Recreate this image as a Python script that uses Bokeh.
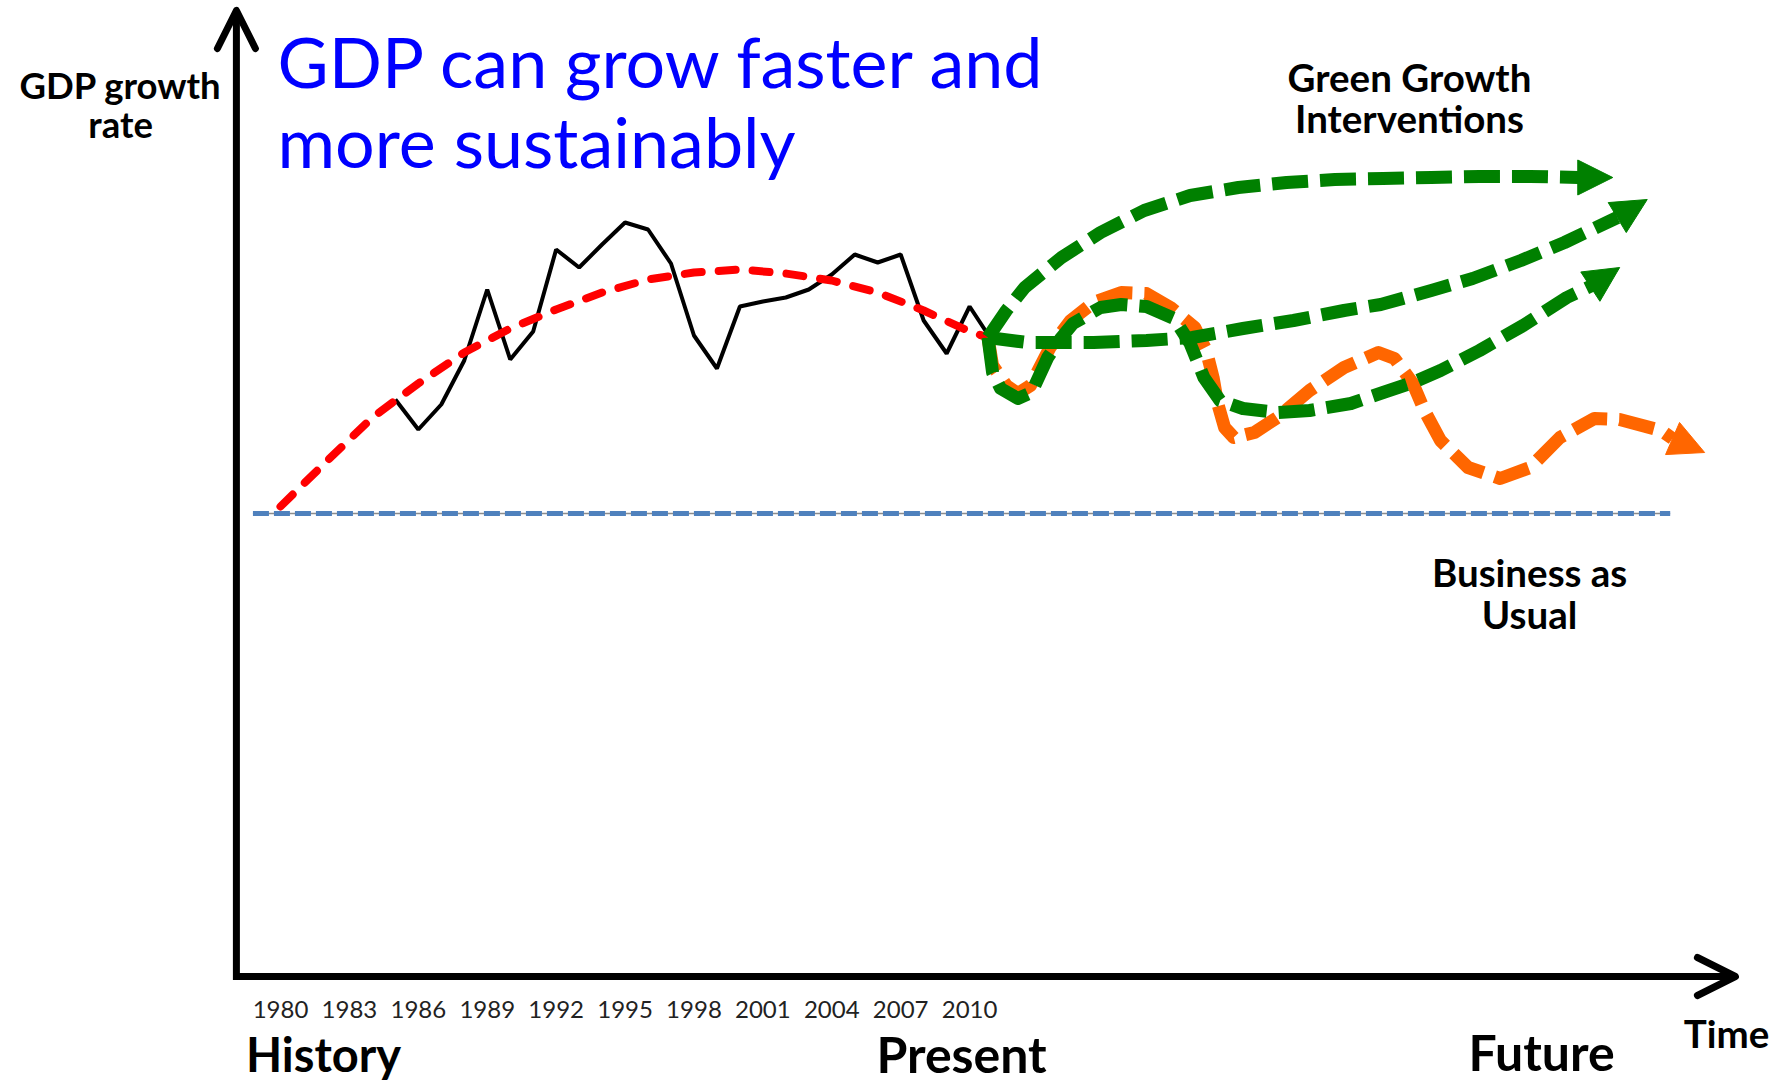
from bokeh.plotting import figure
from bokeh.models import Range1d, Arrow, NormalHead, OpenHead, Label
from bokeh.core.properties import value
from bokeh.embed import file_html
from bokeh.resources import INLINE

# ---------------- data ----------------
# historical GDP growth (schematic index units)
gdp_years = list(range(1985, 2012))
gdp_growth = [57.7, 54.7, 57.2, 61.6, 68.7, 61.7, 64.5, 72.7, 70.9, 73.2, 75.4, 74.7, 71.3,
              64.1, 60.8, 67.0, 67.5, 67.9, 68.7, 70.2, 72.2, 71.4, 72.2, 65.6, 62.3, 67.0, 63.5]

# smoothed historical trend
trend_years = [1980, 1982, 1984, 1986, 1988, 1990, 1992, 1994, 1996, 1998, 2000, 2002, 2004,
               2006, 2008, 2010, 2010.8]
trend_values = [47.0, 51.5, 55.9, 59.3, 62.4, 64.8, 66.7, 68.4, 69.7, 70.4, 70.7, 70.3, 69.6,
                68.4, 66.6, 64.5, 63.9]

# business as usual
bau_years = [1978.8, 2040.5]
bau_values = [46.3, 46.3]

# green growth scenarios
green1_years = [2010.8, 2011.6, 2012.4, 2014.0, 2015.7, 2017.6, 2019.6, 2021.7, 2023.8, 2025.9,
                2028.0, 2030.1, 2032.2, 2034.4, 2036.5]
green1_values = [63.9, 66.6, 68.9, 71.9, 74.4, 76.6, 78.1, 78.9, 79.4, 79.7, 79.8, 79.9, 80.0,
                 80.0, 79.9]
green1_tip = [2038.0, 79.9]

green2_years = [2010.8, 2012.5, 2015.4, 2017.7, 2019.7, 2021.9, 2024.1, 2026.3, 2027.9, 2030.1,
                2031.9, 2034.0, 2035.9, 2038.2]
green2_values = [63.9, 63.4, 63.4, 63.6, 63.9, 64.8, 65.6, 66.6, 67.2, 68.6, 69.8, 71.6, 73.4, 75.9]
green2_tip = [2039.5, 77.7]

green3_years = [2010.8, 2011.0, 2011.35, 2012.1, 2012.7, 2013.4, 2014.0, 2014.5, 2015.7, 2016.6,
                2017.7, 2018.9, 2019.6, 2020.2, 2020.9, 2021.9, 2023.4, 2024.8, 2026.6, 2028.0,
                2029.3, 2030.5, 2032.2, 2034.1, 2036.0, 2037.1]
green3_values = [63.9, 60.4, 58.8, 57.8, 58.4, 61.9, 63.9, 65.3, 66.9, 67.2, 67.0, 65.8, 63.3,
                 59.9, 57.6, 56.8, 56.4, 56.6, 57.3, 58.4, 59.4, 60.6, 62.6, 65.1, 67.9, 69.1]
green3_tip = [2038.3, 70.9]

orange_years = [2010.8, 2011.0, 2011.6, 2012.1, 2012.65, 2013.5, 2014.4, 2015.4, 2016.6, 2017.7,
                2018.75, 2019.8, 2020.3, 2020.6, 2020.8, 2021.1, 2021.5, 2022.4, 2023.4, 2024.8,
                2026.3, 2027.8, 2028.5, 2029.3, 2029.8, 2030.5, 2031.7, 2033.1, 2034.4, 2035.7,
                2037.2, 2038.3, 2040.1, 2040.6]
orange_values = [63.9, 61.1, 59.1, 58.3, 59.1, 62.9, 65.6, 67.4, 68.4, 68.3, 66.9, 64.9, 62.6,
                 59.9, 57.3, 54.9, 53.9, 54.4, 55.9, 58.6, 60.9, 62.4, 61.8, 59.3, 56.6, 53.6,
                 50.9, 49.8, 50.9, 53.9, 55.8, 55.7, 54.6, 53.8]
orange_tip = [2042.0, 52.4]

tick_years = [1980, 1983, 1986, 1989, 1992, 1995, 1998, 2001, 2004, 2007, 2010]
tick_labels = [str(y) for y in tick_years]

title_lines = ["GDP can grow faster and", "more sustainably"]
axis_texts = ["GDP growth", "rate"]
note_texts = ["Green Growth", "Interventions", "Business as", "Usual", "Time"]
future_text = "Future"

# ---------------- layout ----------------
GREEN = "#008000"
ORANGE = "#FF6600"
BLUE = "#4F81BD"

p = figure(width=1785, height=1084, x_range=Range1d(1967.810, 2045.520),
           y_range=Range1d(-10.8, 97.6), output_backend="svg", toolbar_location=None,
           min_border=0)
p.axis.visible = False
p.grid.visible = False
p.outline_line_color = None
p.background_fill_color = "white"

# axes drawn as arrows
y_axis_x = 1978.08
x_axis_y = 0.0
p.add_layout(Arrow(x_start=y_axis_x, y_start=-0.35, x_end=y_axis_x, y_end=96.6,
                   line_width=7, line_color="black",
                   end=OpenHead(size=38, line_width=7, line_color="black",
                                line_join="round", line_cap="round")))
p.add_layout(Arrow(x_start=1977.95, y_start=x_axis_y, x_end=2043.34, y_end=x_axis_y,
                   line_width=7, line_color="black",
                   end=OpenHead(size=38, line_width=7, line_color="black",
                                line_join="round", line_cap="round")))

# business as usual
p.line(bau_years, bau_values, line_color="#8c8c8c", line_width=1.5)
p.line(bau_years, bau_values, line_color=BLUE, line_width=5, line_dash="16 5")

# history
p.line(gdp_years, gdp_growth, line_color="black", line_width=4)
p.line(trend_years, trend_values, line_color="#FF0000", line_width=8, line_dash="17 17",
       line_cap="round")

# scenarios
def scenario(xs, ys, tip, color):
    p.line(xs, ys, line_color=color, line_width=13, line_dash="36 12", line_join="round")
    p.add_layout(Arrow(x_start=xs[-1], y_start=ys[-1], x_end=tip[0], y_end=tip[1],
                       line_alpha=0, line_width=0,
                       end=NormalHead(size=35, fill_color=color, line_color=color,
                                      line_width=1)))

scenario(orange_years, orange_values, orange_tip, ORANGE)
scenario(green3_years, green3_values, green3_tip, GREEN)
scenario(green2_years, green2_values, green2_tip, GREEN)
scenario(green1_years, green1_values, green1_tip, GREEN)

# title
p.text(x=[1979.87, 1979.87], y=[91.6, 83.55], text=title_lines,
       text_font=value("Lato"), text_font_size="70px", text_color="#0000FF",
       text_align="left", text_baseline="alphabetic")

# labels
p.text(x=[1973.04, 1973.04], y=[89.2, 85.3], text=axis_texts, text_font=value("Lato"),
       text_font_size="36.5px", text_font_style="bold", text_color="black",
       text_align="center", text_baseline="alphabetic")
note_x = [2029.15, 2029.15, 2034.38, 2034.38, 2042.95]
note_y = [90.0, 85.9, 40.5, 36.27, -5.6]
p.text(x=note_x, y=note_y, text=note_texts, text_font=value("Lato"),
       text_font_size="38.5px", text_font_style="bold", text_color="black",
       text_align="center", text_baseline="alphabetic")

# year tick labels
p.text(x=tick_years, y=[-3.3] * len(tick_years), text=tick_labels,
       text_font=value("Lato"), text_font_size="24px", text_color="#222222",
       text_align="center", text_baseline="alphabetic")

# eras
p.text(x=[1981.87], y=[-7.7], text=["History"], text_font=value("Lato"),
       text_font_size="47px", text_font_style="bold", text_color="black",
       text_align="center", text_baseline="alphabetic")
p.text(x=[2009.65], y=[-7.7], text=["Present"], text_font=value("Lato"),
       text_font_size="50px", text_font_style="bold", text_color="black",
       text_align="center", text_baseline="alphabetic")
p.add_layout(Label(x=2034.9, y=-7.5, text=future_text, text_font="Lato",
                   text_font_size="50px", text_font_style="bold", text_color="black",
                   text_align="center", text_baseline="alphabetic"))

open("out.html", "w").write(file_html(p, INLINE))
